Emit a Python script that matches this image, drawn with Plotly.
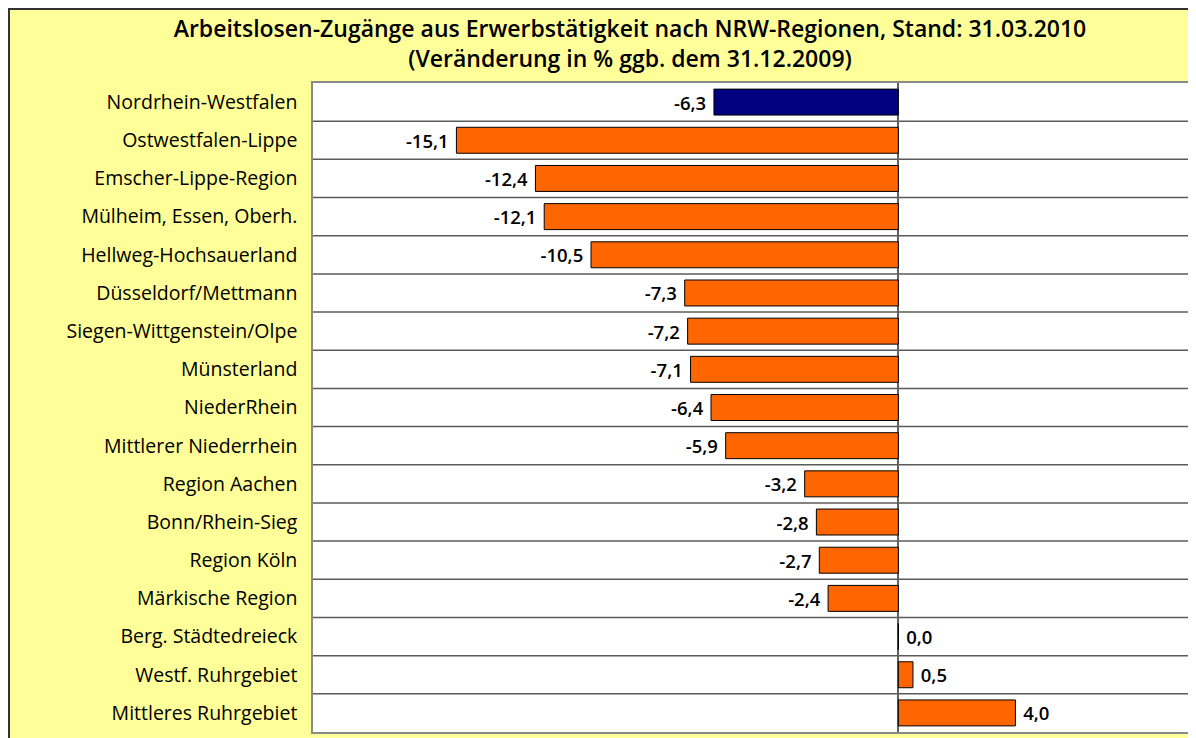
import plotly.graph_objects as go

regions = ["Nordrhein-Westfalen", "Ostwestfalen-Lippe", "Emscher-Lippe-Region",
           "Mülheim, Essen, Oberh.", "Hellweg-Hochsauerland", "Düsseldorf/Mettmann",
           "Siegen-Wittgenstein/Olpe", "Münsterland", "NiederRhein",
           "Mittlerer Niederrhein", "Region Aachen", "Bonn/Rhein-Sieg",
           "Region Köln", "Märkische Region", "Berg. Städtedreieck",
           "Westf. Ruhrgebiet", "Mittleres Ruhrgebiet"]
values = [-6.3, -15.1, -12.4, -12.1, -10.5, -7.3, -7.2, -7.1, -6.4, -5.9,
          -3.2, -2.8, -2.7, -2.4, 0.0, 0.5, 4.0]
colors = ["#000080"] + ["#FF6600"] * (len(values) - 1)

# page body has an 8px margin; figure is placed at (8, 8)
W, H = 1196, 738
ml, mr, mt, mb = 305, 13, 75, 14
pw, ph = W - ml - mr, H - mt - mb

templates = ["%{x:.1f}\u00a0" if v < 0 else "\u00a0%{x:.1f}" for v in values]

fig = go.Figure(go.Bar(
    x=values, y=regions, orientation="h",
    marker=dict(color=colors, line=dict(color="#000000", width=1)),
    width=0.68,
    text=values, texttemplate=templates, textposition="outside",
    textfont=dict(size=18.5, color="#000000", family="Open Sans", weight=600),
    cliponaxis=False,
))

shapes = []
for i in range(len(regions) - 1):
    shapes.append(dict(type="line", xref="paper", yref="y", x0=0, x1=1,
                       y0=i + 0.5, y1=i + 0.5,
                       line=dict(color="#5a5a5a", width=1.5), layer="below"))
fx = lambda px: (px - ml) / pw
fy = lambda py: 1 - (py - mt) / ph
# dark frame on top and left edge of the yellow paper
shapes.append(dict(type="line", xref="paper", yref="paper", x0=fx(0), x1=fx(W),
                   y0=fy(1), y1=fy(1), line=dict(color="#333333", width=2)))
shapes.append(dict(type="line", xref="paper", yref="paper", x0=fx(1), x1=fx(1),
                   y0=fy(H), y1=fy(0), line=dict(color="#333333", width=2)))

fig.update_layout(
    width=W, height=H,
    margin=dict(l=ml, r=mr, t=mt, b=mb),
    paper_bgcolor="#FFFF99", plot_bgcolor="#FFFFFF",
    separators=",.",
    showlegend=False,
    title=dict(
        text="Arbeitslosen-Zugänge aus Erwerbstätigkeit nach NRW-Regionen, Stand: 31.03.2010<br>(Veränderung in % ggb. dem 31.12.2009)",
        x=622 / W, xanchor="center", xref="container",
        y=1 - 29 / H, yanchor="top", yref="container",
        font=dict(size=23, color="#000000", family="Open Sans", weight=600),
    ),
    xaxis=dict(range=[-20, 10], showticklabels=False, showgrid=False,
               zeroline=True, zerolinecolor="#606060", zerolinewidth=1.5,
               showline=True, linecolor="#8a8a8a", linewidth=1.5, mirror=True,
               fixedrange=True),
    yaxis=dict(autorange="reversed", showgrid=False, ticks="",
               tickfont=dict(size=19.5, color="#000000", family="Open Sans"),
               ticklabelstandoff=10,
               showline=True, linecolor="#8a8a8a", linewidth=1.5, mirror=True,
               fixedrange=True),
    shapes=shapes,
)

fig.write_html("out.html")
